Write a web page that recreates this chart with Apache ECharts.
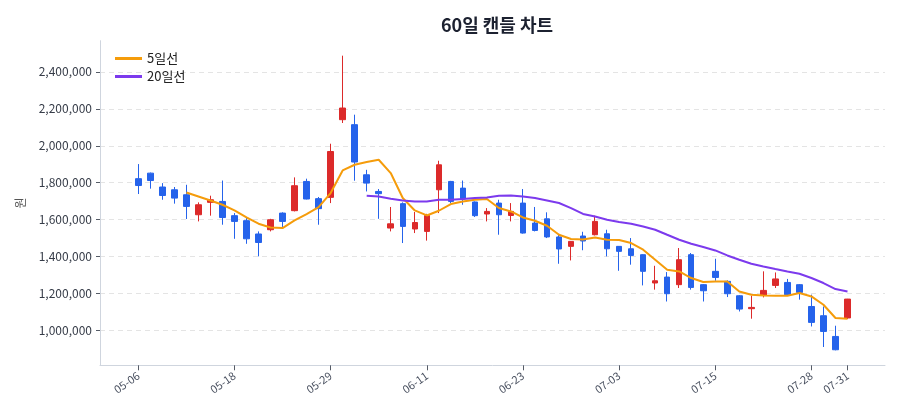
<!DOCTYPE html>
<html>
<head>
    <meta charset="UTF-8">
    <title>60일 캔들 차트</title>
    <script src="https://cdn.jsdelivr.net/npm/echarts@6/dist/echarts.min.js"></script>
    <style>
        html, body { margin: 0; padding: 0; background: #ffffff; }
        #main { width: 900px; height: 420px; }
    </style>
</head>
<body>
<div id="main"></div>
<script>
    // 날짜 (거래일)
    var dates = [
        '05-06', '05-07', '05-08', '05-09', '05-12', '05-13', '05-14', '05-15',
        '05-18', '05-19', '05-20', '05-21', '05-22', '05-25', '05-26', '05-28',
        '05-29', '06-01', '06-02', '06-03', '06-04', '06-05', '06-08', '06-09',
        '06-11', '06-12', '06-15', '06-16', '06-17', '06-18', '06-19', '06-22',
        '06-23', '06-24', '06-25', '06-26', '06-29', '06-30', '07-01', '07-02',
        '07-03', '07-06', '07-07', '07-08', '07-09', '07-10', '07-13', '07-14',
        '07-15', '07-16', '07-17', '07-20', '07-21', '07-22', '07-23', '07-24',
        '07-28', '07-29', '07-30', '07-31'
    ];
    // 라벨을 보여줄 위치
    var labelIdx = [0, 8, 16, 24, 32, 40, 48, 56, 59];

    var opens = [
        1822000, 1852000, 1777000, 1762000, 1735000, 1627000, 1694000, 1699000, 1622000, 1595000,
        1523000, 1546000, 1636000, 1649000, 1807000, 1714000, 1721000, 2141000, 2114000, 1843000,
        1753000, 1555000, 1687000, 1550000, 1537000, 1762000, 1807000, 1771000, 1696000, 1631000,
        1690000, 1623000, 1690000, 1582000, 1605000, 1507000, 1456000, 1512000, 1519000, 1524000,
        1456000, 1443000, 1411000, 1258000, 1290000, 1249000, 1411000, 1249000, 1321000, 1267000,
        1189000, 1119000, 1191000, 1245000, 1261000, 1249000, 1131000, 1081000, 969000, 1069000
    ];
    var closes = [
        1785000, 1812000, 1731000, 1717000, 1672000, 1681000, 1708000, 1612000, 1591000, 1497000,
        1477000, 1600000, 1591000, 1784000, 1712000, 1660000, 1969000, 2204000, 1912000, 1798000,
        1741000, 1578000, 1564000, 1585000, 1623000, 1897000, 1699000, 1712000, 1622000, 1645000,
        1627000, 1645000, 1528000, 1542000, 1507000, 1442000, 1483000, 1485000, 1591000, 1443000,
        1429000, 1407000, 1321000, 1270000, 1200000, 1384000, 1234000, 1216000, 1288000, 1200000,
        1117000, 1126000, 1218000, 1280000, 1195000, 1207000, 1045000, 996000, 897000, 1171000
    ];
    var lows = [
        1739000, 1768000, 1708000, 1687000, 1604000, 1591000, 1622000, 1573000, 1497000, 1470000,
        1402000, 1537000, 1561000, 1645000, 1710000, 1573000, 1690000, 2123000, 1811000, 1753000,
        1605000, 1537000, 1474000, 1528000, 1487000, 1636000, 1690000, 1681000, 1615000, 1591000,
        1519000, 1591000, 1525000, 1537000, 1501000, 1362000, 1380000, 1435000, 1515000, 1402000,
        1324000, 1357000, 1245000, 1222000, 1158000, 1231000, 1222000, 1158000, 1270000, 1182000,
        1104000, 1065000, 1180000, 1231000, 1189000, 1168000, 1023000, 912000, 894000, 1063000
    ];
    var highs = [
        1901000, 1855000, 1798000, 1777000, 1789000, 1694000, 1730000, 1812000, 1636000, 1609000,
        1537000, 1605000, 1640000, 1829000, 1822000, 1723000, 2011000, 2487000, 2168000, 1870000,
        1766000, 1669000, 1694000, 1642000, 1632000, 1919000, 1810000, 1812000, 1699000, 1663000,
        1708000, 1690000, 1766000, 1669000, 1640000, 1519000, 1485000, 1535000, 1622000, 1546000,
        1458000, 1501000, 1413000, 1351000, 1317000, 1447000, 1420000, 1252000, 1389000, 1272000,
        1192000, 1189000, 1321000, 1315000, 1280000, 1252000, 1195000, 1131000, 1027000, 1172000
    ];
    var ma5 = [
        null, null, null, null, 1747600, 1726000, 1704300, 1681100, 1650300, 1612400,
        1578400, 1558400, 1555100, 1596200, 1630800, 1668600, 1744300, 1866500, 1897300, 1911900,
        1924300, 1852400, 1717300, 1650300, 1623200, 1648600, 1684900, 1698900, 1708100, 1711900,
        1663200, 1644900, 1612400, 1594600, 1567600, 1518900, 1495700, 1493500, 1504300, 1491900,
        1490300, 1474100, 1437800, 1383800, 1329700, 1320500, 1284900, 1263200, 1266500, 1266500,
        1212400, 1194600, 1190800, 1189200, 1189200, 1203800, 1185400, 1140500, 1068600, 1064900
    ];
    var ma20 = [
        null, null, null, null, null, null, null, null, null, null,
        null, null, null, null, null, null, null, null, null, 1729700,
        1726000, 1713500, 1704300, 1698900, 1698900, 1708100, 1708100, 1711900, 1717300, 1720500,
        1729700, 1731400, 1726000, 1717300, 1704300, 1690300, 1663200, 1631300, 1617800, 1600000,
        1587600, 1578400, 1563800, 1546000, 1518900, 1491900, 1470300, 1452400, 1434100, 1407000,
        1383800, 1362200, 1347600, 1333500, 1320500, 1308100, 1284900, 1257800, 1225400, 1212400
    ];

    var yMin = 813000, yMax = 2568000;

    var candles = [];
    for (var i = 0; i < dates.length; i++) {
        candles.push([opens[i], closes[i], lows[i], highs[i]]);
    }

    var font = 'Noto Sans CJK KR';
    var showLabel = function (idx) { return labelIdx.indexOf(idx) >= 0; };

    var chart = echarts.init(document.getElementById('main'), null, {renderer: 'canvas'});

    chart.setOption({
        animation: false,
        textStyle: {fontFamily: font},
        title: {
            text: '60일 캔들 차트',
            left: 492,
            top: 11,
            textAlign: 'center',
            textStyle: {fontSize: 18, fontWeight: 'bold', color: '#1c2130', fontFamily: font}
        },
        legend: {
            orient: 'vertical',
            left: 110,
            top: 47,
            itemWidth: 27,
            itemHeight: 3,
            itemGap: 5,
            icon: 'rect',
            textStyle: {fontSize: 13, color: '#222', fontFamily: font},
            data: ['5일선', '20일선']
        },
        grid: [
            {left: 100, right: 15, top: 40.7, bottom: 54.7},
            {left: 132.3, right: 46.5, top: 40.7, bottom: 54.7}
        ],
        xAxis: [
            {
                type: 'value', gridIndex: 0, min: 0, max: 1,
                axisLine: {show: true, lineStyle: {color: '#cfd5de', width: 1}},
                axisTick: {show: false}, axisLabel: {show: false}, splitLine: {show: false}
            },
            {
                type: 'category', gridIndex: 1, data: dates, boundaryGap: true,
                axisLine: {show: false},
                axisTick: {show: true, alignWithLabel: true, interval: showLabel, length: 5,
                    lineStyle: {color: '#555b66'}},
                axisLabel: {interval: showLabel, rotate: 35, fontSize: 11, color: '#4a5160',
                    margin: 9, fontFamily: font},
                splitLine: {show: false}
            }
        ],
        yAxis: [
            {
                type: 'value', gridIndex: 0, min: yMin, max: yMax,
                splitNumber: 8, minInterval: 200000, maxInterval: 200000,
                name: '원', nameLocation: 'middle', nameGap: 74, nameRotate: 90,
                nameTextStyle: {fontSize: 12, color: '#555', fontFamily: font},
                axisLine: {show: true, lineStyle: {color: '#cfd5de', width: 1}},
                axisTick: {show: true, length: 4, lineStyle: {color: '#555b66'}},
                axisLabel: {fontSize: 12, color: '#363c48', margin: 8, showMinLabel: false,
                    showMaxLabel: false, fontFamily: font},
                splitLine: {show: true, showMinLine: false, showMaxLine: false,
                    lineStyle: {color: '#e4e4e4', type: [5, 4], width: 1}}
            },
            {
                type: 'value', gridIndex: 1, min: yMin, max: yMax, show: false,
                splitLine: {show: false}
            }
        ],
        series: [
            {
                name: '캔들',
                type: 'candlestick',
                xAxisIndex: 1,
                yAxisIndex: 1,
                data: candles,
                barWidth: 6,
                itemStyle: {
                    color: '#dc2a2a',
                    color0: '#2563eb',
                    borderColor: '#dc2a2a',
                    borderColor0: '#2563eb',
                    borderWidth: 1
                }
            },
            {
                name: '5일선',
                type: 'line',
                xAxisIndex: 1,
                yAxisIndex: 1,
                data: ma5,
                showSymbol: false,
                symbol: 'none',
                lineStyle: {color: '#f59c0b', width: 2},
                itemStyle: {color: '#f59c0b'}
            },
            {
                name: '20일선',
                type: 'line',
                xAxisIndex: 1,
                yAxisIndex: 1,
                data: ma20,
                showSymbol: false,
                symbol: 'none',
                lineStyle: {color: '#7c3aed', width: 2},
                itemStyle: {color: '#7c3aed'}
            }
        ]
    });
</script>
</body>
</html>
